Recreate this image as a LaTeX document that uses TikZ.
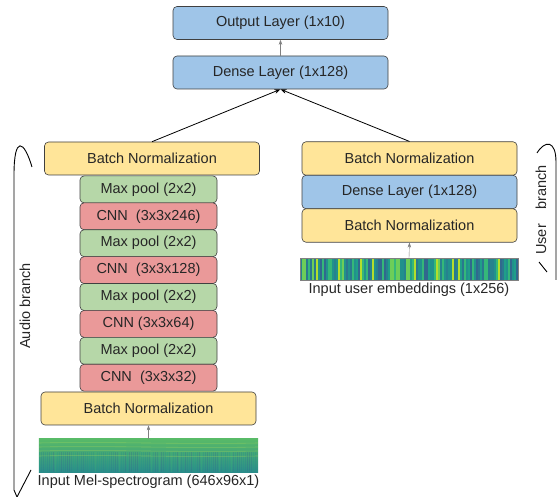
\documentclass[tikz,border=0pt]{standalone}
\usepackage{fontspec}
\setmainfont{Liberation Sans}
\usetikzlibrary{arrows.meta}
\definecolor{bnfill}{HTML}{FFE599}
\definecolor{densefill}{HTML}{9FC5E8}
\definecolor{poolfill}{HTML}{B6D7A8}
\definecolor{cnnfill}{HTML}{EA9999}
\definecolor{edge}{HTML}{404040}
\definecolor{vir0}{HTML}{31688E}
\definecolor{vir1}{HTML}{26828E}
\definecolor{vir2}{HTML}{21918C}
\definecolor{vir3}{HTML}{1F9E89}
\definecolor{vir4}{HTML}{21918C}
\definecolor{vir5}{HTML}{35B779}
\definecolor{vir6}{HTML}{2A788E}
\definecolor{vir7}{HTML}{6CCE59}
\definecolor{vir8}{HTML}{35B779}
\definecolor{vir9}{HTML}{B4DE2C}
\definecolor{meltop}{HTML}{58BA68}
\definecolor{melbot}{HTML}{2A8C8A}
\definecolor{melline}{HTML}{A6D85A}
\begin{document}
\begin{tikzpicture}[x=1pt,y=-1pt,
    layer/.style={draw=edge,line width=0.6pt,rounded corners=4pt,inner sep=0pt,minimum height=33pt,
      font=\fontsize{14.5}{16}\selectfont,text=black!85},
    bnbox/.style={layer,fill=bnfill,minimum width=215pt},
    densebox/.style={layer,fill=densefill,minimum width=215pt},
    poolbox/.style={layer,fill=poolfill,minimum width=137pt,minimum height=26.9pt},
    cnnbox/.style={layer,fill=cnnfill,minimum width=137pt,minimum height=26.9pt},
    txt/.style={inner sep=0pt,font=\fontsize{14.5}{16}\selectfont,text=black!85},
    grayarrow/.style={draw=gray,-{Stealth[length=5pt,width=3.5pt]}},
    blackarrow/.style={draw=black,thick,-{Stealth[length=6pt,width=4.5pt]}},
    bracket/.style={draw=black,line width=0.9pt}]
  \useasboundingbox (0,0) rectangle (558,497);
  % top
  \node[densebox] (out) at (280.5,23) {Output Layer (1x10)};
  \node[densebox] (dense) at (280.5,72.5) {Dense Layer (1x128)};
  % audio branch
  \node[bnbox] (abn2) at (152,158.5) {Batch Normalization};
  \node[poolbox] (pool4) at (148.5,189.4) {Max pool (2x2)};
  \node[cnnbox] (cnn4) at (148.5,216.3) {CNN\ \ (3x3x246)};
  \node[poolbox] (pool3) at (148.5,243.2) {Max pool (2x2)};
  \node[cnnbox] (cnn3) at (148.5,270.1) {CNN\ \ (3x3x128)};
  \node[poolbox] (pool2) at (148.5,297.0) {Max pool (2x2)};
  \node[cnnbox] (cnn2) at (148.5,323.9) {CNN (3x3x64)};
  \node[poolbox] (pool1) at (148.5,350.8) {Max pool (2x2)};
  \node[cnnbox] (cnn1) at (148.5,377.7) {CNN\ \ (3x3x32)};
  \node[bnbox] (abn1) at (148.5,408.5) {Batch Normalization};
  \node[inner sep=0pt,minimum width=219pt,minimum height=33pt] (mel) at (148.5,455.5) {};
  \node[txt] (mellabel) at (148.5,482) {Input Mel-spectrogram (646x96x1)};
  % mel picture
  \fill[top color=meltop,bottom color=melbot] (mel.north west) rectangle (mel.south east);
  \pgfmathsetseed{11}
  \begin{scope}
    \clip (mel.north west) rectangle (mel.south east);
    \foreach \i in {0,...,108} {
      \pgfmathrandominteger{\k}{0}{6}
      \fill[vir\k,opacity=0.3] (39+2*\i,452) rectangle ++(1,20);
    }
    \foreach \yy in {443,447,451,456} {
      \draw[melline,opacity=0.45,line width=0.6pt] (39,\yy) .. controls (110,\yy-1.5) and (180,\yy+1.5) .. (258,\yy);
    }
  \end{scope}
  % user branch
  \node[bnbox,minimum height=33.5pt] (ubn2) at (409.5,158.5) {Batch Normalization};
  \node[densebox,minimum height=33.5pt] (udense) at (409.5,192) {Dense Layer (1x128)};
  \node[bnbox,minimum height=33.5pt] (ubn1) at (409.5,225.5) {Batch Normalization};
  \node[inner sep=0pt,minimum width=218pt,minimum height=22pt] (emb) at (409,269) {};
  \node[txt] (emblabel) at (409,290) {Input user embeddings (1x256)};
  \foreach \i in {0,...,108} {
    \pgfmathrandominteger{\k}{0}{9}
    \fill[vir\k] (300+2*\i,258) rectangle ++(2,22);
  }
  \draw[gray] (emb.north west) rectangle (emb.south east);
  % connectors
  \draw[grayarrow] (dense.north) -- (out.south);
  \draw[blackarrow] (abn2.north) -- (dense.south);
  \draw[blackarrow] (ubn2.north) -- (dense.south);
  \draw[grayarrow] (mel.north) -- (abn1.south);
  \draw[grayarrow] (emb.north) -- (ubn1.south);
  % braces
  \draw[bracket] (32,167) .. controls (24,140) and (14,135) .. (14,175) -- (14,490) -- (17,497) -- (31,470);
  \node[txt,rotate=90] (audiolbl) at (25,306) {Audio branch};
  \draw[bracket] (537,153) .. controls (545,140) and (556,140) .. (556,162) -- (556,280);
  \draw[bracket] (539,262) -- (547,272);
  \node[txt,rotate=90] (userlbl) at (541,210) {User\quad branch};
\end{tikzpicture}
\end{document}
